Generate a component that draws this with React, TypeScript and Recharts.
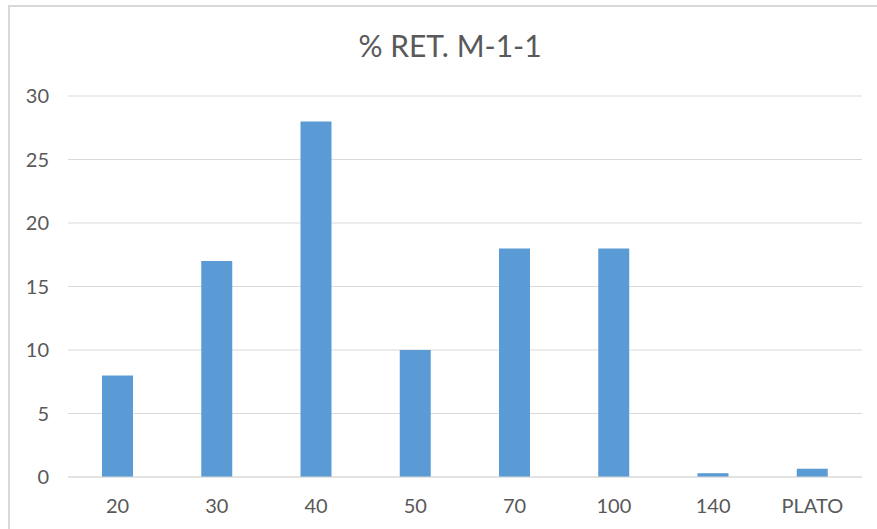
import React from "react";
import { BarChart, Bar, XAxis, YAxis, CartesianGrid } from "recharts";

const sizes = ["20", "30", "40", "50", "70", "100", "140", "PLATO"];
const retained = [8, 17, 28, 10, 18, 18, 0.3, 0.65];
const yTicks = [0, 5, 10, 15, 20, 25, 30];

const data = sizes.map((s, i) => ({ size: s, ret: retained[i] }));

const FONT = "Lato, 'Open Sans', sans-serif";
const TEXT = "#595959";

export default function App() {
  return (
    <div style={{ position: "absolute", left: 0, top: 0, width: 877, height: 529, background: "#fff", overflow: "hidden" }}>
      <div
        style={{
          position: "absolute",
          left: 8,
          top: 5,
          width: 900,
          height: 560,
          border: "2px solid #d9d9d9",
          boxSizing: "border-box",
        }}
      />
      <svg width={877} height={80} style={{ position: "absolute", left: 0, top: 0 }}>
        <text x={450} y={57} textAnchor="middle" fontFamily={FONT} fontSize={30} fill={TEXT}>
          % RET. M-1-1
        </text>
      </svg>
      <div style={{ position: "absolute", left: 0, top: 0 }}>
        <BarChart
          width={877}
          height={529}
          data={data}
          margin={{ top: 96, right: 15, bottom: 0, left: 0 }}
        >
          <CartesianGrid vertical={false} stroke="#d9d9d9" strokeWidth={1} />
          <XAxis
            dataKey="size"
            height={52}
            axisLine={{ stroke: "#d9d9d9" }}
            tickLine={false}
            tickSize={0}
            tickMargin={22}
            tick={{ fill: TEXT, fontSize: 20, fontFamily: FONT }}
          />
          <YAxis
            domain={[0, 30]}
            ticks={yTicks}
            width={68}
            axisLine={false}
            tickLine={false}
            tickSize={0}
            tickMargin={19}
            tick={{ fill: TEXT, fontSize: 20, fontFamily: FONT }}
          />
          <Bar dataKey="ret" fill="#5b9bd5" barSize={31} isAnimationActive={false} />
        </BarChart>
      </div>
    </div>
  );
}
